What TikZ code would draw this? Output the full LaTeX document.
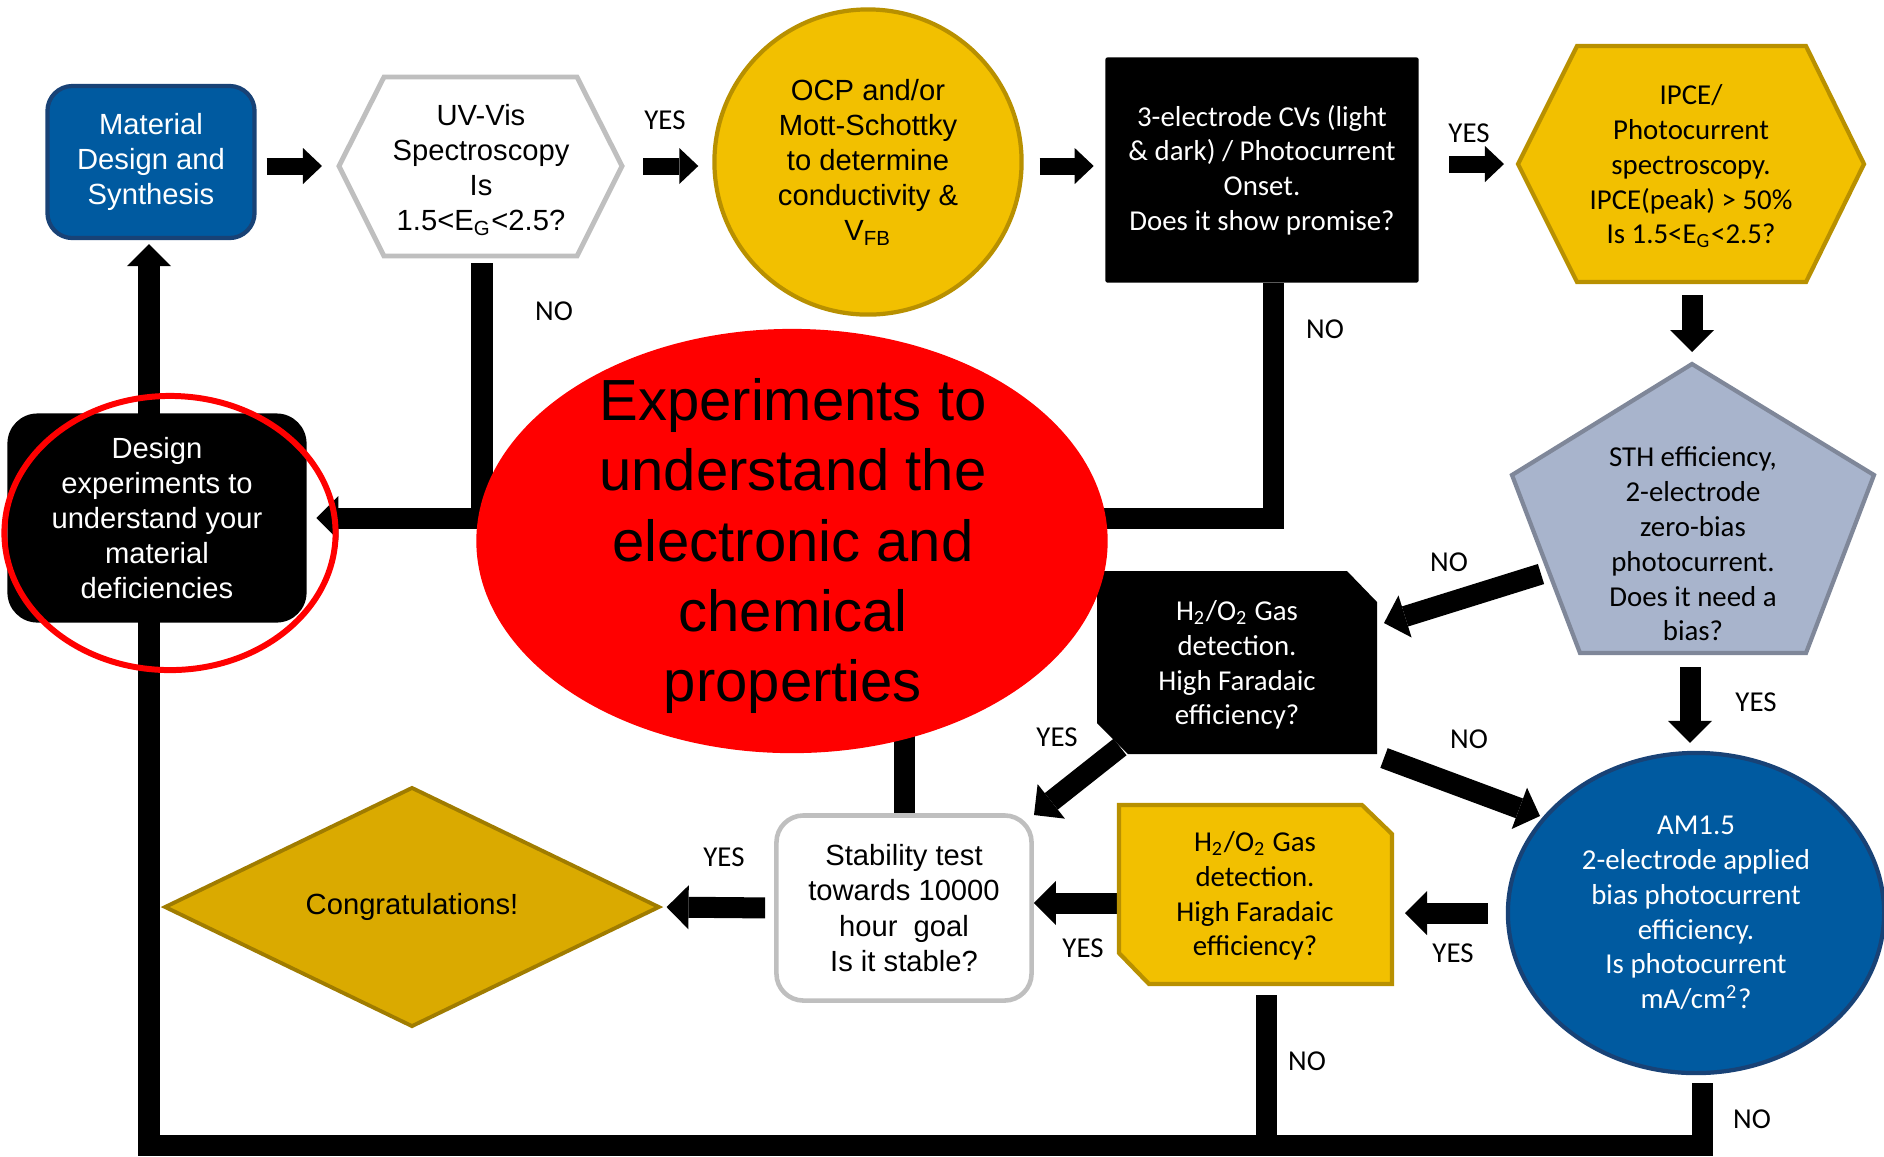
\documentclass[tikz,border=0pt]{standalone}
\usepackage{fontspec}
\setmainfont{Liberation Sans}
\newfontfamily\calibri{Carlito}
\usetikzlibrary{arrows.meta,calc,shapes.geometric,backgrounds}
\definecolor{MatClr}{RGB}{0,90,160}
\definecolor{MatEdgeClr}{RGB}{24,66,118}
\definecolor{GoldClr}{RGB}{242,192,0}
\definecolor{GoldEdgeClr}{RGB}{184,144,0}
\definecolor{CongrClr}{RGB}{218,170,0}
\definecolor{CongrEdgeClr}{RGB}{160,124,0}
\definecolor{SthClr}{RGB}{168,180,204}
\definecolor{SthEdgeClr}{RGB}{127,135,153}
\definecolor{GreyEdgeClr}{RGB}{191,191,191}

\begin{document}
\begin{tikzpicture}[x=0.01cm,y=-0.01cm,
  arialtxt/.style={font=\fontsize{8.3}{10}\selectfont,align=center,inner sep=0pt},
  calitxt/.style={font=\calibri\fontsize{8.2}{9.9}\selectfont,align=center,inner sep=0pt},
  answer/.style={calitxt},
  toparrow/.style={line width=0.17cm,-{Triangle[length=0.19cm,width=0.36cm,line width=0pt]}},
  flowarrow/.style={line width=0.21cm,-{Triangle[length=0.22cm,width=0.44cm,line width=0pt]}},
  flowline/.style={line width=0.21cm}]
\useasboundingbox (0,0) rectangle (1884,1156);

\foreach \x/\y/\n in {339/166/uvW,384/77/uvNW,577/77/uvNE,622/166/uvE,577/256/uvSE,384/256/uvSW,482/256/uvS,
  1518/164/ipW,1577/46/ipNW,1806/46/ipNE,1864/164/ipE,1806/282/ipSE,1577/282/ipSW,1692/282/ipS,
  1692/364/stN,1874/475/stNE,1806/653/stSE,1580/653/stSW,1512/475/stNW,1690/653/stS,
  1097/571/hbNW,1347/571/hbA,1377/602/hbB,1377/754/hbSE,1128/754/hbC,1097/723/hbD,
  1119/805/hyNW,1362/805/hyA,1392/834/hyB,1392/984/hySE,1149/984/hyC,1119/953/hyD,
  1541/574/stNO,1384/623/hbNO,1384/758/hbOut,1540/816/amIn,1120/747/hbYes,1034/815/stabIn,
  1119/903/hyW,1273/283/cvNO,1702/1074/amNO,1266/984/hyNO,149/1145/loopBL}
  \coordinate (\n) at (\x,\y);

\filldraw[draw=GreyEdgeClr,fill=white,line width=1.4pt] (uvW) -- (uvNW) -- (uvNE) -- (uvE) -- (uvSE) -- (uvSW) -- cycle;
\filldraw[draw=GoldEdgeClr,fill=GoldClr,line width=1.2pt] (ipW) -- (ipNW) -- (ipNE) -- (ipE) -- (ipSE) -- (ipSW) -- cycle;
\filldraw[draw=SthEdgeClr,fill=SthClr,line width=1.2pt] (stN) -- (stNE) -- (stSE) -- (stSW) -- (stNW) -- cycle;
\fill[black] (hbNW) -- (hbA) -- (hbB) -- (hbSE) -- (hbC) -- (hbD) -- cycle;
\filldraw[draw=GoldEdgeClr,fill=GoldClr,line width=1.2pt] (hyNW) -- (hyA) -- (hyB) -- (hySE) -- (hyC) -- (hyD) -- cycle;

\node[rectangle,rounded corners=0.25cm,fill=MatClr,draw=MatEdgeClr,line width=1.2pt,minimum width=2.07cm,minimum height=1.52cm,text=white,arialtxt] (mat) at (151,162) {Material\\Design and\\Synthesis};
\node[arialtxt] (uv) at (481,170) {UV-Vis\\Spectroscopy\\Is\\1.5<E\textsubscript{G}<2.5?};
\node[ellipse,fill=GoldClr,draw=GoldEdgeClr,line width=1.2pt,minimum width=3.07cm,minimum height=3.05cm,arialtxt] (ocp) at (868,162) {OCP and/or\\Mott-Schottky\\to determine\\conductivity \&\\V\textsubscript{FB}};
\node[rectangle,fill=black,rounded corners=0.02cm,minimum width=3.13cm,minimum height=2.25cm,text=white,calitxt] (cv) at (1262,170) {3-electrode CVs (light\\\& dark) / Photocurrent\\Onset.\\Does it show promise?};
\node[calitxt] (ipce) at (1691,166) {IPCE/\\Photocurrent\\spectroscopy.\\IPCE(peak) > 50\%\\Is 1.5<E\textsubscript{G}<2.5?};
\node[calitxt] (sth) at (1693,544) {STH efficiency,\\2-electrode\\zero-bias\\photocurrent.\\Does it need a\\bias?};
\node[calitxt,text=white] (h2b) at (1237,665) {H\textsubscript{2}/O\textsubscript{2} Gas\\detection.\\High Faradaic\\efficiency?};
\node[calitxt] (h2y) at (1255,896) {H\textsubscript{2}/O\textsubscript{2} Gas\\detection.\\High Faradaic\\efficiency?};
\node[ellipse,fill=MatClr,draw=MatEdgeClr,line width=1.2pt,minimum width=3.76cm,minimum height=3.20cm,text=white,calitxt] (am) at (1696,913) {AM1.5\\2-electrode applied\\bias photocurrent\\efficiency.\\Is photocurrent\\mA/cm\textsuperscript{2}?};
\node[rectangle,rounded corners=0.27cm,fill=white,draw=GreyEdgeClr,line width=1.3pt,minimum width=2.55cm,minimum height=1.85cm,arialtxt] (stab) at (904,908) {Stability test\\towards 10000\\hour\ \ goal\\Is it stable?};
\node[diamond,fill=CongrClr,draw=CongrEdgeClr,line width=1.1pt,minimum width=4.95cm,minimum height=2.37cm,arialtxt] (congr) at (412,907) {Congratulations!};
\node[ellipse,fill=red,minimum width=6.31cm,minimum height=4.24cm,inner sep=0pt] (red) at (792,541) {};
\node[align=center,inner sep=0pt,font=\fontsize{16.5}{20}\selectfont] (redtxt) at (793,546) {Experiments to\\understand the\\electronic and\\chemical\\properties};
\node[rectangle,rounded corners=0.3cm,fill=black,minimum width=2.99cm,minimum height=2.09cm,text=white,arialtxt] (design) at (157,518) {Design\\experiments to\\understand your\\material\\deficiencies};

\node[answer] (yesUV) at (665,120) {YES};
\node[answer] (noUV) at (554,311) {NO};
\node[answer] (yesCV) at (1469,133) {YES};
\node[answer] (noCV) at (1325,329) {NO};
\node[answer] (noSTH) at (1449,562) {NO};
\node[answer] (yesSTH) at (1756,702) {YES};
\node[answer] (noHB) at (1469,739) {NO};
\node[answer] (yesHB) at (1057,737) {YES};
\node[answer] (yesStab) at (724,857) {YES};
\node[answer] (yesHY) at (1083,948) {YES};
\node[answer] (yesAM) at (1453,953) {YES};
\node[answer] (noHY) at (1307,1061) {NO};
\node[answer] (noAM) at (1752,1119) {NO};

\begin{scope}[on background layer]
\draw[toparrow,shorten <=0.1cm,shorten >=0.17cm] (mat.east |- uvW) -- (uvW);
\draw[toparrow,shorten <=0.21cm,shorten >=0.14cm] (uvE) -- (uvE -| ocp.west);
\draw[toparrow,shorten <=0.16cm,shorten >=0.11cm] (ocp.east |- uvE) -- (cv.west |- uvE);
\draw[toparrow,shorten <=0.3cm,shorten >=0.14cm] (cv.east |- ipW) -- (ipW);
\draw[flowarrow,shorten <=0.13cm,shorten >=0.12cm] (ipS) -- (stN);
\draw[flowarrow] (stNO) -- (hbNO);
\draw[flowarrow,shorten <=0.14cm,shorten >=0.08cm] (stS) -- (stS |- am.north);
\draw[flowarrow] (hbOut) -- (amIn);
\draw[flowarrow] (hbYes) -- (stabIn);
\draw[flowarrow] (hyW) -- (stab.east |- hyW);
\draw[flowarrow,shorten <=0.18cm,shorten >=0.13cm] (am.west) -- (am.west -| hySE);
\draw[flowarrow,shorten <=0.09cm,shorten >=0.05cm] (stab.west) -- (congr.east);
\draw[flowline] (stab.north) -- (stab.north |- red.center);
\draw[flowline,shorten <=0.07cm] (uvS) -- (uvS |- design.east);
\draw[flowarrow,shorten >=0.09cm] (cvNO) |- (design.east);
\draw[flowarrow,shorten <=0.09cm,shorten >=0.04cm] (amNO) |- (loopBL) -- (loopBL |- mat.south);
\draw[flowline,shorten <=0.11cm] (hyNO) -- (hyNO |- loopBL);
\end{scope}

\node[ellipse,draw=red,line width=1.7pt,minimum width=3.31cm,minimum height=2.74cm,inner sep=0pt] (ring) at (170,533) {};
\end{tikzpicture}
\end{document}
